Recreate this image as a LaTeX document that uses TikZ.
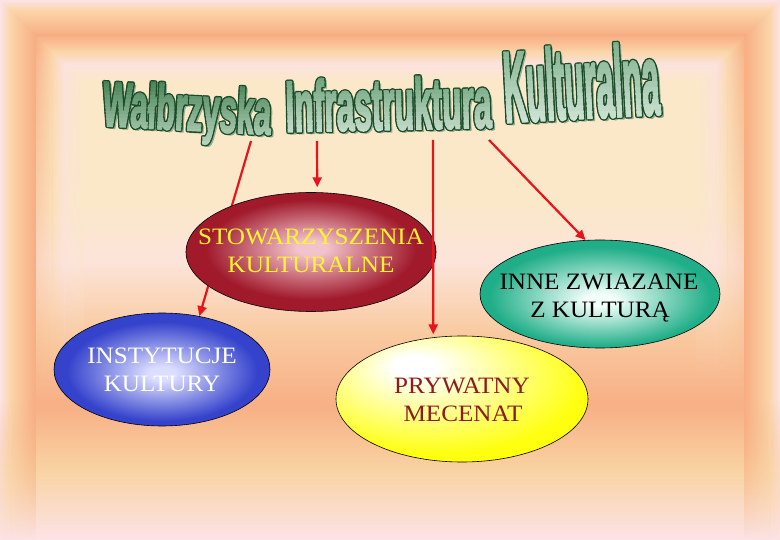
\documentclass[tikz,border=0pt]{standalone}
\usepackage{fontspec}
\setmainfont{Liberation Serif}
\newfontfamily\titlefont{Liberation Sans Bold}[FakeBold=3]
\usetikzlibrary{shapes.geometric,arrows.meta,fadings}

\definecolor{bgpink}{HTML}{FCE3E6}
\definecolor{bglight}{HTML}{FAD6AA}
\definecolor{bgorange}{HTML}{F7AE82}
\definecolor{bgpinkb}{HTML}{FCE2DE}
\definecolor{bgcream}{HTML}{FBE8C8}
\definecolor{bgmid}{HTML}{FCE4DA}
\definecolor{bglo}{HTML}{F9CBA2}
\definecolor{bgorb}{HTML}{F8AF85}
\definecolor{bglightb}{HTML}{F9D3A3}

\definecolor{rA}{HTML}{F3C3CB}
\definecolor{rB}{HTML}{A01A2C}
\definecolor{bA}{HTML}{DCDEFF}
\definecolor{bB}{HTML}{3543CC}
\definecolor{yA}{HTML}{FFFFFF}
\definecolor{yB}{HTML}{FFFF10}
\definecolor{tA}{HTML}{F2FFFA}
\definecolor{tB}{HTML}{20AE88}

\definecolor{stowtxt}{HTML}{FFF530}
\definecolor{privtxt}{HTML}{8E1B1B}
\definecolor{arrred}{HTML}{E8141B}
\definecolor{toutline}{HTML}{1C4B28}
\definecolor{tshadow}{HTML}{93AE96}
\definecolor{gAt}{HTML}{3B7A4B}
\definecolor{gAb}{HTML}{BFD9C4}
\definecolor{gBt}{HTML}{5A966A}
\definecolor{gBb}{HTML}{E4F0E6}
\definecolor{gCt}{HTML}{72A881}
\definecolor{gCb}{HTML}{E8F3EA}

\pgfdeclareradialshading{redsh}{\pgfpoint{0bp}{2bp}}{color(0bp)=(rA); color(3bp)=(rA); color(21bp)=(rB); color(40bp)=(rB)}
\pgfdeclareradialshading{bluesh}{\pgfpoint{0bp}{-2bp}}{color(0bp)=(bA); color(3bp)=(bA); color(22bp)=(bB); color(40bp)=(bB)}
\pgfdeclareradialshading{yelsh}{\pgfpoint{-10bp}{14bp}}{color(0bp)=(yA); color(4bp)=(yA); color(30bp)=(yB); color(70bp)=(yB)}
\pgfdeclareradialshading{teash}{\pgfpoint{0bp}{-3bp}}{color(0bp)=(tA); color(3bp)=(tA); color(23bp)=(tB); color(40bp)=(tB)}

\tikzfading[name=fadedown, top color=transparent!0, bottom color=transparent!100]

% title word: #1 id, #2 x, #3 baseline y, #4 font size, #5 xscale, #6 rotation, #7 top colour, #8 bottom colour, #9 text
\newcommand{\tword}[9]{%
  \begin{scope}[every node/.style={inner sep=0pt, anchor=base, rotate=#6, xscale=#5,
      font=\titlefont\fontsize{#4}{#4}\selectfont}]
    \node[text=tshadow] (#1s) at ({#2+2.5},{#3+2}) {#9};
    \foreach \dx/\dy [count=\cc] in {1.4/0,-1.4/0,0/1.4,0/-1.4,1/1,1/-1,-1/1,-1/-1}
      \node[text=toutline] (#1o\cc) at ({#2+\dx},{#3+\dy}) {#9};
    \foreach \kk in {0,...,19}{%
      \pgfmathsetmacro\ya{#3-0.9*#4+\kk*0.06*#4}%
      \pgfmathsetmacro\yb{\ya+0.06*#4+0.4}%
      \pgfmathsetmacro\pc{100-\kk*5.2}%
      \begin{scope}
        \clip (0,\ya) rectangle (780,\yb);
        \node[text=#7!\pc!#8] (#1f\kk) at (#2,#3) {#9};
      \end{scope}
    }
  \end{scope}}

\newcommand{\vseg}[4]{\shade[top color=#3, bottom color=#4] (0,#1) rectangle (780,#2);}
% outer half of a side band: opaque down to 400, fading out below
\newcommand{\oseg}[4]{\shade[left color=#3, right color=#4] (#1,0) rectangle (#2,400.5);
  \shade[left color=#3, right color=#4, path fading=fadedown] (#1,400) rectangle (#2,540);}
% inner half of a side band: fading out downwards
\newcommand{\fseg}[4]{\shade[left color=#3, right color=#4, path fading=fadedown] (#1,0) rectangle (#2,380);}

\begin{document}
\begin{tikzpicture}[x=1pt,y=-1pt,
  arr/.style={draw=arrred, line width=2.2pt, -{Triangle[length=10pt,width=9pt]}},
  oval/.style={ellipse, draw=black, line width=0.6pt, inner sep=0pt, shade},
  lbl/.style={font=\fontsize{23.5}{28}\selectfont, inner sep=0pt, anchor=base, xscale=1.07},
]
\useasboundingbox (0,0) rectangle (780,540);

% ---------- background ----------
\fill[bgpink] (0,0) rectangle (780,540);
\vseg{0}{10.5}{bgpink}{bglight}
\vseg{10}{35.5}{bglight}{bgorange}
\vseg{35}{52.5}{bgorange}{bglight}
\vseg{52}{64.5}{bglight}{bgpinkb}
\vseg{64}{82.5}{bgpinkb}{bgcream}
\vseg{82}{200.5}{bgcream}{bgcream}
\vseg{200}{262.5}{bgcream}{bgmid}
\vseg{262}{330.5}{bgmid}{bglo}
\vseg{330}{405.5}{bglo}{bgorb}
\vseg{405}{470.5}{bgorb}{bglightb}
\vseg{470}{540}{bglightb}{bgpink}

\begin{scope}
  \clip (0,0) -- (84,84) -- (84,540) -- (0,540) -- cycle;
  \oseg{0}{10.5}{bgpink}{bglight}
  \oseg{10}{35.5}{bglight}{bgorange}
  \fseg{35}{52.5}{bgorange}{bglight}
  \fseg{52}{64.5}{bglight}{bgpinkb}
  \fseg{64}{84}{bgpinkb}{bgcream}
\end{scope}
\begin{scope}
  \clip (780,0) -- (696,84) -- (696,540) -- (780,540) -- cycle;
  \oseg{769.5}{780}{bglight}{bgpink}
  \oseg{744.5}{770}{bgorange}{bglight}
  \fseg{727.5}{745}{bglight}{bgorange}
  \fseg{715.5}{728}{bgpinkb}{bglight}
  \fseg{696}{716}{bgcream}{bgpinkb}
\end{scope}

% ---------- title ----------
\tword{tA}{186}{130}{63}{0.49}{-3}{gAt}{gAb}{Wałbrzyska}
\tword{tB}{389}{129.5}{72}{0.44}{1.2}{gBt}{gBb}{Infrastruktura}
\tword{tC}{583}{118}{100}{0.315}{3}{gCt}{gCb}{Kulturalna}

\coordinate (s1) at (251,141);
\coordinate (s2) at (317,141);
\coordinate (s3) at (433,140);
\coordinate (s4) at (489,140);

% ---------- ellipses ----------
\node[oval, shading=bluesh, minimum width=216pt, minimum height=113pt] (inst) at (162,369.5) {};
\draw[arr] (s1) -- (inst.55);
\node[oval, shading=redsh, minimum width=250pt, minimum height=119pt] (stow) at (311,252) {};
\node[oval, shading=teash, minimum width=240pt, minimum height=108pt] (other) at (600,294) {};
\node[oval, shading=yelsh, minimum width=252pt, minimum height=126pt] (priv) at (462,399) {};

\draw[arr, shorten >=5pt] (s2) -- (stow.84);
\draw[arr, shorten >=3pt] (s3) -- (priv.115);
\draw[arr] (s4) -- (other.105);

% ---------- labels ----------
\node[lbl, text=stowtxt] (stowA) at (311,245) {STOWARZYSZENIA};
\node[lbl, text=stowtxt] (stowB) at (311,273) {KULTURALNE};
\node[lbl, text=white] (instA) at (162,363) {INSTYTUCJE};
\node[lbl, text=white] (instB) at (162,391.5) {KULTURY};
\node[lbl, text=privtxt] (privA) at (462,393) {PRYWATNY};
\node[lbl, text=privtxt] (privB) at (463,421.5) {MECENAT};
\node[lbl, text=black] (otherA) at (599,290) {INNE ZWIAZANE};
\node[lbl, text=black] (otherB) at (600,318) {Z KULTURĄ};
\end{tikzpicture}
\end{document}
